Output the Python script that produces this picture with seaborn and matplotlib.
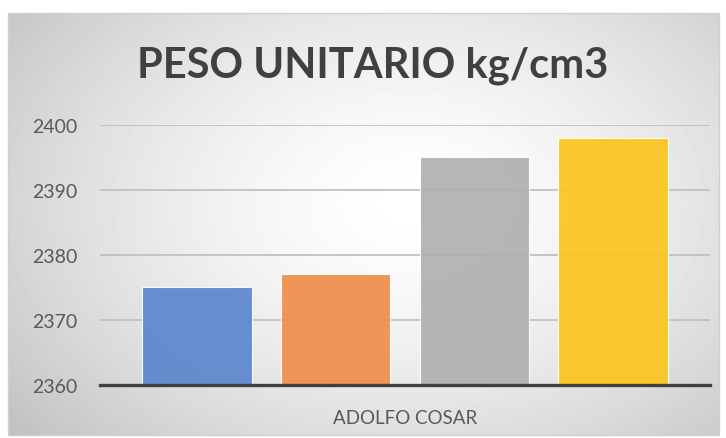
import numpy as np
import pandas as pd
import seaborn as sns
import matplotlib.pyplot as plt
from matplotlib.patches import Rectangle

# datos
muestra = ["ADOLFO COSAR"] * 4
serie = ["Serie 1", "Serie 2", "Serie 3", "Serie 4"]
peso = [2375, 2377, 2395, 2398]
colores = ["#5B86CD", "#EF8D4B", "#B0B0B0", "#FCC41E"]
yticks = [2360, 2370, 2380, 2390, 2400]

df = pd.DataFrame({"muestra": muestra, "serie": serie, "peso": peso})

sns.set_theme(style="white")
plt.rcParams['font.family'] = ['Lato', 'DejaVu Sans']

fig = plt.figure(figsize=(7.26, 4.39), dpi=100)
fig.patch.set_facecolor("white")

# fondo con degradado radial como en excel
bg = fig.add_axes([8 / 726, 3 / 439, 711 / 726, 422 / 439])
h, w = 422, 711
yy, xx = np.mgrid[0:h, 0:w]
r = np.sqrt(((xx - 400) / 430.0) ** 2 + ((yy - 190) / 300.0) ** 2)
r = np.clip(r, 0, 1.25) / 1.25
grad = 1.0 - 0.26 * r ** 1.5
bg.imshow(grad, cmap="gray", vmin=0, vmax=1, aspect="auto", interpolation="bilinear")
bg.set_axis_off()
fig.patches.append(Rectangle((8 / 726, 3 / 439), 711 / 726, 422 / 439,
                             transform=fig.transFigure, fill=False,
                             edgecolor="#d0d0d0", linewidth=1))

ax = fig.add_axes([100 / 726, 53 / 439, 610 / 726, 260 / 439])
ax.set_facecolor("none")
ax.set_axisbelow(True)
ax.yaxis.grid(True, color="#bdbdbd", linewidth=1.2)

sns.barplot(data=df, x="muestra", y="peso", hue="serie", palette=colores,
            width=0.911, gap=0.209, legend=False, ax=ax, alpha=0.92,
            edgecolor="#ffffff", linewidth=0.8, saturation=1)

ax.set_ylim(2360, 2400)
ax.set_xlim(-0.5, 0.5)
ax.set_yticks(yticks)
ax.set_xlabel("")
ax.set_ylabel("")
for s in ["top", "right", "left"]:
    ax.spines[s].set_visible(False)
ax.spines["bottom"].set_color("#404040")
ax.spines["bottom"].set_linewidth(2.4)
ax.tick_params(axis="y", length=0, pad=16, labelsize=14, labelcolor="#595959")
ax.tick_params(axis="x", length=0, pad=17, labelsize=13.5, labelcolor="#595959")

fig.text(373 / 726, 1 - 66 / 439, "PESO UNITARIO kg/cm3", ha="center", va="center",
         fontsize=30, fontweight="bold", color="#404040")

fig.savefig("out.png", dpi=100)
